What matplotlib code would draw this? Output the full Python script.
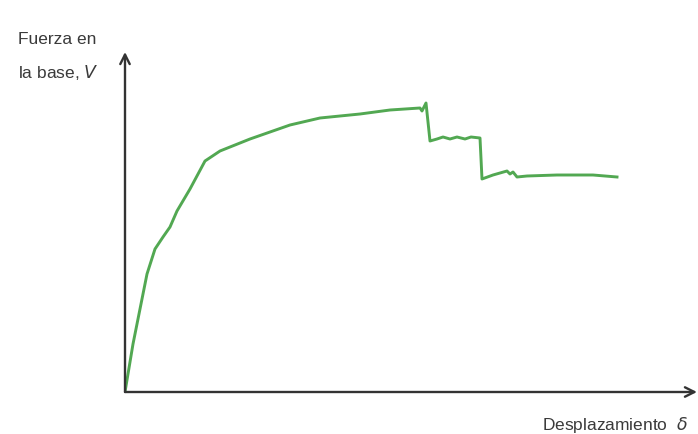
import matplotlib.pyplot as plt

# pushover curve (arbitrary units)
desplazamiento = [0, 8, 22, 30, 38, 45, 52, 65, 80, 95, 125, 145, 165, 195,
                  235, 265, 295, 297, 301, 305, 312, 318, 325, 332, 340, 346,
                  355, 357, 368, 382, 385, 388, 392, 402, 432, 468, 492]
fuerza = [0, 48, 118, 143, 155, 165, 181, 203, 231, 241, 253, 260, 267, 274,
          278, 282, 284, 281, 289, 251, 253, 255, 253, 255, 253, 255, 254,
          213, 217, 221, 218, 220, 215, 216, 217, 217, 215]

fig = plt.figure(figsize=(6.98, 4.35), dpi=100)
ax = fig.add_axes([125 / 698, 42 / 435, 572 / 698, 340 / 435])
ax.set_xlim(0, 572)
ax.set_ylim(0, 340)
ax.axis('off')

ax.plot(desplazamiento, fuerza, color='#52a852', lw=2.1, solid_joinstyle='round')

# axes drawn as arrows
arrow = dict(arrowstyle='->', color='#333333', lw=1.7, mutation_scale=17,
             shrinkA=0, shrinkB=0)
ax.annotate('', xy=(1, 0), xytext=(0, 0), xycoords='axes fraction', arrowprops=arrow)
ax.annotate('', xy=(0, 1), xytext=(0, 0), xycoords='axes fraction', arrowprops=arrow)

txt = dict(fontsize=12.5, color='#3a3a3a', family='Liberation Sans', va='center')
fig.text(18 / 698, 1 - 40 / 435, 'Fuerza en', **txt)
fig.text(18 / 698, 1 - 73 / 435, 'la base, $\\it{V}$', **txt)
fig.text(688 / 698, 1 - 425 / 435, 'Desplazamiento  $\\it{\\delta}$', ha='right', **txt)

fig.savefig('out.png', dpi=100)
